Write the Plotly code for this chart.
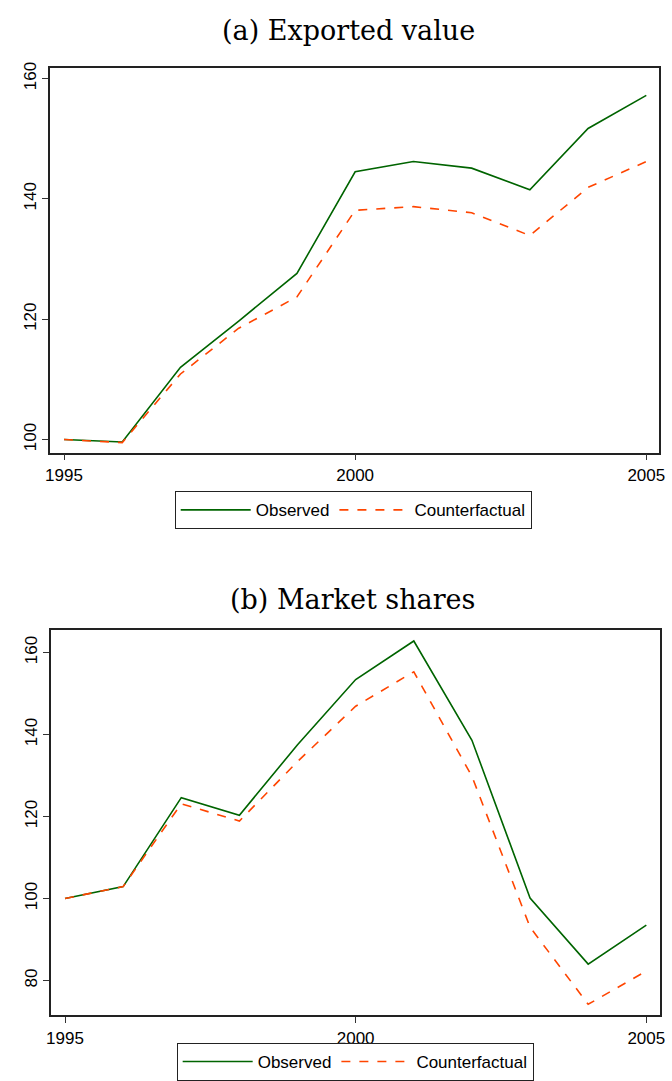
import plotly.graph_objects as go

years = [1995, 1996, 1997, 1998, 1999, 2000, 2001, 2002, 2003, 2004, 2005]

exp_observed = [100, 99.6, 112.0, 119.7, 127.6, 144.5, 146.2, 145.1, 141.5, 151.7, 157.2]
exp_counterfactual = [100, 99.5, 110.9, 118.5, 123.7, 138.1, 138.7, 137.7, 133.9, 141.9, 146.2]

ms_observed = [100, 102.9, 124.6, 120.3, 137.5, 153.4, 162.8, 138.6, 100.1, 84.0, 93.5]
ms_counterfactual = [100, 102.9, 123.1, 118.9, 133.4, 146.9, 155.3, 129.8, 93.0, 74.2, 82.3]

titles = ["(a) Exported value", "(b) Market shares"]
series_names = ["Observed", "Counterfactual"]
x_ticks = [1995, 2000, 2005]
y_ticks_a = [100, 120, 140, 160]
y_ticks_b = [80, 100, 120, 140, 160]

GREEN = "#006400"
ORANGE = "#FF4500"
W, H = 672, 1081

fig = go.Figure()

def add_pair(obs, cf, xa, ya, leg):
    fig.add_trace(go.Scatter(x=years, y=obs, mode="lines", name=series_names[0],
                             line=dict(color=GREEN, width=1.6), xaxis=xa, yaxis=ya, legend=leg))
    fig.add_trace(go.Scatter(x=years, y=cf, mode="lines", name=series_names[1],
                             line=dict(color=ORANGE, width=1.6, dash="dash"), xaxis=xa, yaxis=ya, legend=leg))

add_pair(exp_observed, exp_counterfactual, "x", "y", "legend")
add_pair(ms_observed, ms_counterfactual, "x2", "y2", "legend2")

SANS = "Liberation Sans, Arial, sans-serif"
tickfont = dict(family=SANS, size=17, color="black")
axis_common = dict(showline=True, linecolor="#222222", linewidth=1.5, mirror=True,
                   ticks="outside", ticklen=6, tickcolor="#333333", tickwidth=1,
                   showgrid=False, zeroline=False, tickfont=tickfont)

def px_x(p):
    return p / W

def px_y(p):
    return 1 - p / H

legend_common = dict(orientation="h", xanchor="center",
                     bordercolor="#222222", borderwidth=1, bgcolor="white",
                     font=dict(family=SANS, size=17, color="black"),
                     itemwidth=70, tracegroupgap=0)

fig.update_layout(
    width=W, height=H,
    margin=dict(l=0, r=0, t=0, b=0),
    paper_bgcolor="white", plot_bgcolor="white",
    xaxis=dict(domain=[px_x(46), px_x(665)], range=[1994.7635, 2005.22], anchor="y",
               tickvals=x_ticks, **axis_common),
    yaxis=dict(domain=[px_y(449), px_y(62)], range=[97.85, 161.8], anchor="x",
               tickvals=y_ticks_a, tickangle=-90, **axis_common),
    xaxis2=dict(domain=[px_x(47), px_x(666)], range=[1994.763, 2005.237], anchor="y2",
                tickvals=x_ticks, **axis_common),
    yaxis2=dict(domain=[px_y(1015), px_y(627)], range=[71.5, 165.6], anchor="x2",
                tickvals=y_ticks_b, tickangle=-90, **axis_common),
    legend=dict(x=px_x(354), y=px_y(488), yanchor="top", **legend_common),
    legend2=dict(x=px_x(356), y=0, yanchor="bottom", **legend_common),
    showlegend=True,
)

title_font = dict(family="DejaVu Serif, serif", size=27, color="black")
fig.add_annotation(text=titles[0], x=px_x(349), y=px_y(25), xref="paper", yref="paper",
                   showarrow=False, font=title_font, xanchor="center", yanchor="middle")
fig.add_annotation(text=titles[1], x=px_x(353), y=px_y(597), xref="paper", yref="paper",
                   showarrow=False, font=title_font, xanchor="center", yanchor="middle")

post = (
    "document.documentElement.style.overflow='hidden';"
    "document.body.style.margin='0';document.body.style.overflow='hidden';"
)
fig.write_html("out.html", config={"displayModeBar": False}, post_script=post)
